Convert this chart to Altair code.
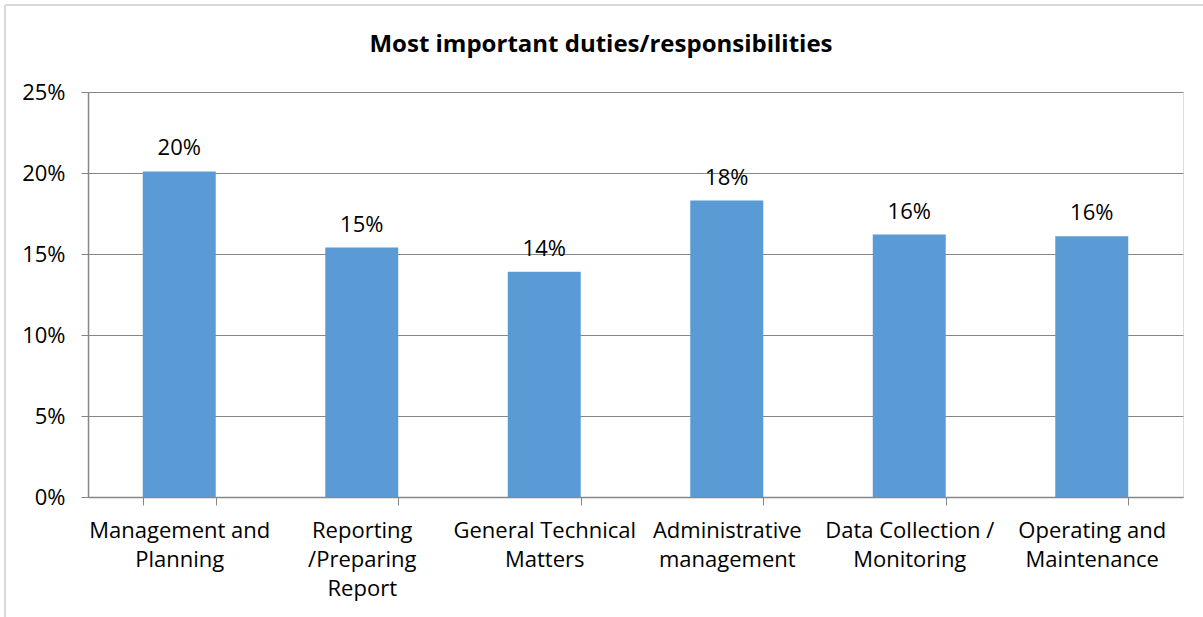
import altair as alt
import pandas as pd

categories = [
    "Management and|Planning",
    "Reporting|/Preparing|Report",
    "General Technical|Matters",
    "Administrative|management",
    "Data Collection /|Monitoring",
    "Operating and|Maintenance",
]
values = [0.201, 0.154, 0.139, 0.183, 0.162, 0.161]
y_ticks = [0, 0.05, 0.10, 0.15, 0.20, 0.25]
title_text = ["Most important duties/responsibilities"]

df = pd.DataFrame({"cat": categories, "val": values})
title_df = pd.DataFrame({"t": title_text})

FONT = "Open Sans"
x_scale = alt.Scale(paddingInner=0.6, paddingOuter=0.3)
y_scale = alt.Scale(domain=[0, 0.25])

x_enc = alt.X(
    "cat:N",
    sort=categories,
    scale=x_scale,
    title=None,
    axis=alt.Axis(
        labelExpr="split(datum.label, '|')",
        labelAngle=0,
        labelFontSize=22,
        labelFont=FONT,
        labelColor="#000000",
        labelLineHeight=29,
        labelPadding=15,
        labelBaseline="top",
        tickBand="extent",
        tickSize=8,
        tickColor="#868686",
        domainColor="#868686",
        domainWidth=1.5,
        labelLimit=400,
    ),
)

bars = alt.Chart(df).mark_bar(color="#5B9BD5").encode(
    x=x_enc,
    y=alt.Y(
        "val:Q",
        scale=y_scale,
        title=None,
        axis=alt.Axis(
            values=y_ticks,
            format=".0%",
            labelFontSize=22,
            labelFont=FONT,
            labelColor="#000000",
            labelPadding=16,
            tickSize=7,
            tickColor="#868686",
            domainColor="#868686",
            domainWidth=1.5,
            gridColor="#868686",
            gridWidth=1,
        ),
    ),
)

labels = alt.Chart(df).mark_text(
    baseline="bottom", dy=-11, fontSize=22, font=FONT, color="#000000"
).encode(
    x=alt.X("cat:N", sort=categories, scale=x_scale),
    y=alt.Y("val:Q", scale=y_scale),
    text=alt.Text("val:Q", format=".0%"),
)

title = alt.Chart(title_df).mark_text(
    align="center", baseline="middle", fontSize=24, fontWeight="bold",
    font=FONT, color="#000000"
).encode(
    x=alt.value(513), y=alt.value(-47), text="t:N"
)

border_top = alt.Chart(df).mark_rule(color="#D9D9D9", strokeWidth=1.5).encode(
    x=alt.value(-83), x2=alt.value(1120), y=alt.value(-87)
)
border_left = alt.Chart(df).mark_rule(color="#D9D9D9", strokeWidth=1.5).encode(
    x=alt.value(-83), y=alt.value(-87), y2=alt.value(530)
)

chart = (
    alt.layer(bars, labels, title, border_top, border_left)
    .properties(
        width=1095,
        height=405,
        autosize=alt.AutoSizeParams(type="none"),
        padding={"left": 88, "top": 92, "right": 20, "bottom": 120},
    )
    .configure_view(stroke=None)
    .configure(background="#FFFFFF")
)

chart.save("out.html", embed_options={"renderer": "svg", "actions": False})
